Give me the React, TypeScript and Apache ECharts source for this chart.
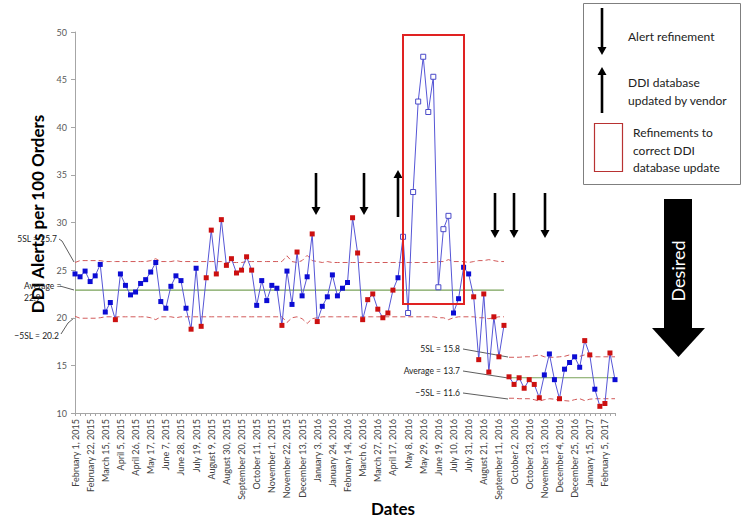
import React, { useEffect, useRef } from "react";
import * as echarts from "echarts";

const MONTHS = ["January","February","March","April","May","June","July","August","September","October","November","December"];
const WEEK_COUNT = 108;
const FIRST_WEEK = Date.UTC(2015, 1, 1);
const weekLabels: string[] = Array.from({ length: WEEK_COUNT }, (_, i) => {
  const d = new Date(FIRST_WEEK + i * 7 * 86400000);
  return `${MONTHS[d.getUTCMonth()]} ${d.getUTCDate()}, ${d.getUTCFullYear()}`;
});

// DDI alerts per 100 orders, weekly
const alertsPer100: number[] = [
  24.6, 24.3, 24.9, 23.8, 24.4, 25.6, 20.6, 21.6, 19.8, 24.6,
  23.4, 22.4, 22.7, 23.6, 24.0, 24.8, 25.8, 21.7, 21.0, 23.3,
  24.4, 23.9, 21.0, 18.8, 25.2, 19.1, 24.2, 29.2, 24.6, 30.3,
  25.5, 26.2, 24.7, 25.0, 26.4, 25.0, 21.3, 23.9, 21.8, 23.4,
  23.1, 19.2, 24.9, 21.4, 26.9, 22.3, 24.3, 28.8, 19.6, 21.2,
  22.2, 24.5, 22.3, 23.1, 23.7, 30.5, 26.8, 19.8, 21.9, 22.5,
  20.9, 20.0, 20.5, 22.9, 24.2, 28.5, 20.5, 33.2, 42.7, 47.4,
  41.6, 45.3, 23.2, 29.3, 30.7, 20.5, 22.0, 25.3, 24.6, 22.2,
  15.6, 22.5, 14.3, 20.1, 15.9, 19.2, 13.8, 13.0, 13.7, 12.6,
  13.5, 13.0, 11.6, 14.0, 16.2, 13.5, 11.5, 14.6, 15.3, 15.9,
  14.8, 17.6, 16.1, 12.5, 10.7, 11.0, 16.3, 13.5
];

// C = common cause, S = special cause signal, X = excluded (vendor update period)
const pointStatus: string[] = (
  "CCCCCCCCSC" + "CCCCCCCCCC" + "CCCSCSSSSS" + "SSSSSSCCCC" +
  "CSCCSCCSSC" + "CCCCCSSSSS" + "SSSSCXXXXX" + "XXXXXCCCCS" +
  "SSSSSSSSSS" + "SSSCCCSCCC" + "CSSCSSSC"
).split("");

const PHASE1_LEN = 86;
const phase1Mean = 22.9;
const phase2Mean = 13.7;
const phase1Ucl: number[] = [
  25.8, 26.0, 26.0, 26.0, 26.0, 26.0, 25.9, 25.9, 25.9, 25.9,
  25.9, 25.9, 25.9, 25.9, 25.9, 26.0, 26.2, 25.9, 25.9, 25.9,
  26.0, 25.9, 25.9, 25.9, 25.9, 25.9, 25.9, 25.9, 25.9, 25.9,
  25.8, 25.8, 25.8, 25.8, 25.9, 25.9, 25.9, 25.9, 25.9, 25.9,
  25.9, 25.9, 26.5, 25.9, 25.8, 26.0, 26.55, 26.0, 25.9, 25.8,
  25.9, 25.8, 25.8, 25.8, 25.8, 25.8, 25.8, 25.8, 25.8, 25.8,
  25.8, 25.8, 25.8, 25.8, 25.8, 25.8, 25.8, 25.8, 25.8, 25.8,
  25.8, 25.8, 25.9, 25.9, 26.1, 25.9, 25.9, 25.9, 25.8, 25.9,
  26.0, 26.0, 26.1, 26.0, 25.9, 25.9
];
const phase1Lcl: number[] = [
  20.15, 19.95, 19.95, 19.95, 19.95, 20.0, 20.1, 20.1, 20.1, 20.1,
  20.1, 20.1, 20.1, 20.1, 20.1, 20.0, 19.8, 20.1, 20.1, 20.1,
  20.0, 20.1, 20.1, 20.1, 20.1, 20.1, 20.1, 20.1, 20.1, 20.1,
  20.1, 20.1, 20.1, 20.1, 20.1, 20.1, 20.1, 20.1, 20.1, 20.1,
  20.1, 20.1, 19.5, 20.0, 20.1, 19.9, 19.4, 19.9, 20.0, 20.1,
  20.1, 20.1, 20.1, 20.1, 20.1, 20.1, 20.1, 20.1, 20.1, 20.1,
  20.1, 20.1, 20.1, 20.1, 20.1, 20.1, 20.1, 20.1, 20.1, 20.1,
  20.1, 20.1, 20.0, 20.0, 19.8, 20.0, 20.1, 20.1, 20.1, 20.1,
  20.0, 20.0, 19.9, 20.0, 20.1, 20.1
];
const phase2Ucl: number[] = [
  15.85, 15.85, 15.85, 15.9, 15.9, 16.0, 16.1, 15.9, 15.85, 15.85,
  15.9, 15.95, 16.1, 15.9, 15.95, 16.1, 16.0, 15.9, 15.9, 15.9,
  15.9, 15.9
];
const phase2Lcl: number[] = [
  11.55, 11.55, 11.5, 11.5, 11.5, 11.4, 11.25, 11.4, 11.5, 11.45,
  11.35, 11.3, 11.25, 11.4, 11.5, 11.3, 11.45, 11.5, 11.5, 11.5,
  11.5, 11.5
];

const FONT = "Lato, 'Open Sans', sans-serif";

function markerStyle(status: string) {
  if (status === "S") return { color: "#cc1010" };
  if (status === "X") return { color: "#ffffff", borderColor: "#4a4ac8", borderWidth: 1 };
  return { color: "#0c0cd4" };
}

function phaseData(from: number, to: number) {
  return alertsPer100.map((v, i) =>
    i >= from && i < to ? { value: v, itemStyle: markerStyle(pointStatus[i]) } : "-"
  );
}

function limitData(vals: number[], offset: number) {
  return weekLabels.map((_, i) => (i >= offset && i < offset + vals.length ? vals[i - offset] : "-"));
}

function constData(v: number, from: number, to: number) {
  return weekLabels.map((_, i) => (i >= from && i < to ? v : "-"));
}

function arrow(x: number, y1: number, y2: number) {
  const dir = y2 > y1 ? 1 : -1;
  const head = 8;
  return {
    type: "group",
    children: [
      { type: "line", shape: { x1: x, y1, x2: x, y2: y2 - dir * head }, style: { stroke: "#000", lineWidth: 2.6 } },
      { type: "polygon", shape: { points: [[x - 4.5, y2 - dir * head], [x + 4.5, y2 - dir * head], [x, y2]] }, style: { fill: "#000" } },
    ],
  };
}

function txt(x: number, y: number, text: string, size: number, align = "left", extra: any = {}, rotation = 0) {
  return {
    type: "text",
    x, y, rotation,
    style: { text, fontSize: size, fontFamily: FONT, fill: "#222", align, verticalAlign: "middle", ...extra },
  };
}

export default function App() {
  const ref = useRef<HTMLDivElement>(null);
  useEffect(() => {
    if (!ref.current) return;
    const chart = echarts.init(ref.current, undefined, { renderer: "svg" });
    const lineStyleData = { color: "#5656d6", width: 1 };
    const dashed = { color: "#d25a5a", width: 1, type: [5, 3] as any };
    const green = { color: "#7aa35a", width: 1.2 };
    const limitSeries = (name: string, data: any[], ls: any) => ({
      name, type: "line", data, symbol: "none", lineStyle: ls, z: 1, silent: true, connectNulls: false,
    });
    const graphic: any[] = [
      txt(37, 214, "DDI Alerts per 100 Orders", 17, "center", { fontWeight: "bold", fill: "#000" }, Math.PI / 2),
      txt(393, 508, "Dates", 17, "center", { fontWeight: "bold", fill: "#000" }),
      // phase 1 limit labels
      txt(57, 239, "5SL = 25.7", 8.5, "right"),
      { type: "polyline", shape: { points: [[59, 239], [62, 241], [74, 262]] }, style: { stroke: "#333", lineWidth: 0.8, fill: null } },
      txt(24, 286, "Average =", 8.5, "left"),
      txt(24, 298, "22.9", 8.5, "left"),
      { type: "polyline", shape: { points: [[60, 286], [74, 290]] }, style: { stroke: "#333", lineWidth: 0.8, fill: null } },
      txt(59, 336, "\u22125SL = 20.2", 8.5, "right"),
      { type: "polyline", shape: { points: [[61, 334], [68, 323], [74, 318]] }, style: { stroke: "#333", lineWidth: 0.8, fill: null } },
      // phase 2 labels
      txt(460, 349, "5SL = 15.8", 8.5, "right"),
      { type: "line", shape: { x1: 463, y1: 349, x2: 508, y2: 357 }, style: { stroke: "#333", lineWidth: 0.8 } },
      txt(460, 371, "Average = 13.7", 8.5, "right"),
      { type: "line", shape: { x1: 463, y1: 371, x2: 508, y2: 378 }, style: { stroke: "#333", lineWidth: 0.8 } },
      txt(460, 393, "\u22125SL = 11.6", 8.5, "right"),
      { type: "line", shape: { x1: 463, y1: 393, x2: 508, y2: 399 }, style: { stroke: "#333", lineWidth: 0.8 } },
      // chart annotations
      { type: "rect", shape: { x: 403, y: 35, width: 61, height: 269 }, style: { stroke: "#e02222", lineWidth: 2, fill: null }, z: 10 },
      arrow(316, 173, 215),
      arrow(364, 173, 215),
      arrow(398, 217, 170),
      arrow(495, 193, 238),
      arrow(514, 193, 238),
      arrow(545, 193, 238),
      // legend box
      { type: "rect", shape: { x: 583.5, y: 3.5, width: 157, height: 181 }, style: { stroke: "#7f7f7f", lineWidth: 1, fill: "#fff" } },
      arrow(602, 8, 55),
      arrow(602, 113, 67),
      txt(628, 36, "Alert refinement", 12, "left"),
      txt(628, 82, "DDI database", 12, "left"),
      txt(628, 100, "updated by vendor", 12, "left"),
      { type: "rect", shape: { x: 594.5, y: 123.5, width: 28, height: 48 }, style: { stroke: "#b83232", lineWidth: 1.2, fill: null } },
      txt(633, 132, "Refinements to", 12, "left"),
      txt(633, 150, "correct DDI", 12, "left"),
      txt(633, 167, "database update", 12, "left"),
      // desired arrow
      { type: "rect", shape: { x: 664, y: 199, width: 28, height: 130 }, style: { fill: "#000" } },
      { type: "polygon", shape: { points: [[652, 328], [705, 328], [678.5, 357]] }, style: { fill: "#000" } },
      txt(678, 271, "Desired", 18, "center", { fill: "#fff" }, Math.PI / 2),
    ];
    chart.setOption({
      animation: false,
      backgroundColor: "#fff",
      grid: { left: 75, top: 32, width: 540, height: 381, containLabel: false },
      xAxis: {
        type: "category",
        data: weekLabels,
        boundaryGap: false,
        axisLine: { lineStyle: { color: "#a6a6a6" } },
        axisTick: { show: true, interval: 0, length: 3, lineStyle: { color: "#a6a6a6" } },
        axisLabel: { interval: 2, rotate: 90, fontSize: 9, fontFamily: FONT, color: "#404040", margin: 6 },
        splitLine: { show: false },
      },
      yAxis: {
        type: "value",
        min: 10, max: 50, interval: 5,
        axisLine: { show: true, lineStyle: { color: "#a6a6a6" } },
        axisTick: { show: true, length: 4, lineStyle: { color: "#a6a6a6" } },
        axisLabel: { fontSize: 9, fontFamily: FONT, color: "#595959", margin: 8 },
        splitLine: { show: false },
      },
      series: [
        limitSeries("UCL 1", limitData(phase1Ucl, 0), dashed),
        limitSeries("LCL 1", limitData(phase1Lcl, 0), dashed),
        limitSeries("Mean 1", constData(phase1Mean, 0, PHASE1_LEN), green),
        limitSeries("UCL 2", limitData(phase2Ucl, PHASE1_LEN), dashed),
        limitSeries("LCL 2", limitData(phase2Lcl, PHASE1_LEN), dashed),
        limitSeries("Mean 2", constData(phase2Mean, PHASE1_LEN, WEEK_COUNT), green),
        {
          name: "Phase 1", type: "line", data: phaseData(0, PHASE1_LEN), symbol: "rect", symbolSize: 5,
          showAllSymbol: true, lineStyle: lineStyleData, z: 3,
        },
        {
          name: "Phase 2", type: "line", data: phaseData(PHASE1_LEN, WEEK_COUNT), symbol: "rect", symbolSize: 5,
          showAllSymbol: true, lineStyle: lineStyleData, z: 3,
        },
      ],
      graphic,
    });
    return () => chart.dispose();
  }, []);
  return <div ref={ref} style={{ position: "fixed", left: 0, top: 0, width: 744, height: 518 }} />;
}
